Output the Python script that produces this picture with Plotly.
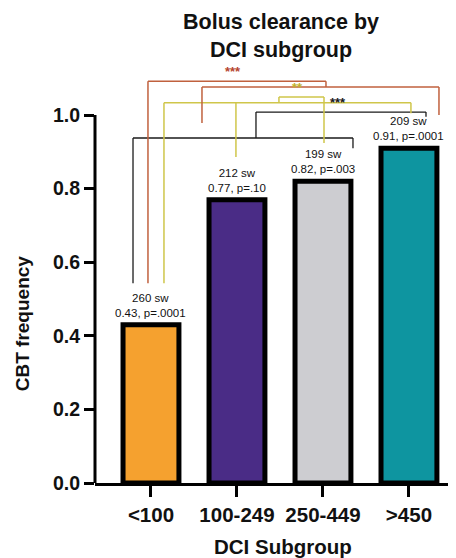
import plotly.graph_objects as go

# ---- data ----
categories = ["<100", "100-249", "250-449", ">450"]
cbt_frequency = [0.43, 0.77, 0.82, 0.91]
swallow_counts = [260, 212, 199, 209]
p_values = [".0001", ".10", ".003", ".0001"]
bar_colors = ["#F5A12F", "#4A2C86", "#CDCDD1", "#0E95A0"]

# comparison brackets: each has a horizontal level, and legs (x position, leg bottom)
brackets = [
    # black
    {"color": "#1a1a1a", "level": 0.9375, "legs": [(-0.209, 0.543), (2.349, 0.910)]},
    {"color": "#1a1a1a", "level": 1.008, "legs": [(1.221, 0.9375), (3.198, 0.995)]},
    # yellow
    {"color": "#CFC64A", "level": 1.033, "legs": [(0.151, 0.543), (0.988, 0.886), (3.023, 1.005)]},
    {"color": "#CFC64A", "level": 1.049, "legs": [(1.488, 1.033), (2.012, 0.924)]},
    # red
    {"color": "#C0613E", "level": 1.076, "legs": [(0.593, 0.978), (3.349, 1.000)]},
    {"color": "#C0613E", "level": 1.092, "legs": [(-0.035, 0.543), (2.035, 1.076)]},
]
stars = [
    {"text": "***", "x": 2.174, "y": 1.008, "color": "#1a1a1a"},
    {"text": "**", "x": 1.709, "y": 1.049, "color": "#C2B22E"},
    {"text": "***", "x": 0.953, "y": 1.092, "color": "#B5452E"},
]

FONT = "Arial, Liberation Sans, Helvetica, sans-serif"

fig = go.Figure()
xs = list(range(len(categories)))
fig.add_trace(go.Bar(
    x=xs, y=cbt_frequency, width=0.65,
    marker=dict(color=bar_colors, line=dict(color="black", width=5)),
    hoverinfo="skip", showlegend=False,
))

for b in brackets:
    lx = [l[0] for l in b["legs"]]
    px, py = [min(lx), max(lx)], [b["level"], b["level"]]
    px.append(None); py.append(None)
    for x0, y0 in b["legs"]:
        px += [x0, x0, None]
        py += [b["level"], y0, None]
    fig.add_trace(go.Scatter(
        x=px, y=py, mode="lines",
        line=dict(color=b["color"], width=1.5 if b["color"] != "#1a1a1a" else 1.3),
        hoverinfo="skip", showlegend=False, cliponaxis=False,
    ))

annotations = []
for s in stars:
    annotations.append(dict(x=s["x"], y=s["y"], xref="x", yref="y", text="<b>" + s["text"] + "</b>",
                            showarrow=False, yanchor="bottom",
                            font=dict(family=FONT, size=13, color=s["color"])))

for i, (v, n, p) in enumerate(zip(cbt_frequency, swallow_counts, p_values)):
    annotations.append(dict(x=i, y=v, xref="x", yref="y",
                            text=f"{n} sw<br>{v:.2f}, p={p}",
                            showarrow=False, yanchor="bottom", yshift=4,
                            font=dict(family=FONT, size=11.5, color="#111")))

# title and axis titles
annotations.append(dict(x=0.516, y=1.0835, xref="paper", yref="paper",
                        text="<b>Bolus clearance by<br>DCI subgroup</b>", showarrow=False,
                        xanchor="center", yanchor="middle",
                        font=dict(family=FONT, size=21.5, color="#111")))
annotations.append(dict(x=0.521, y=-0.154, xref="paper", yref="paper",
                        text="<b>DCI Subgroup</b>", showarrow=False,
                        xanchor="center", yanchor="middle",
                        font=dict(family=FONT, size=20.5, color="#111")))
annotations.append(dict(x=-0.202, y=0.387, xref="paper", yref="paper",
                        text="<b>CBT frequency</b>", showarrow=False, textangle=-90,
                        xanchor="center", yanchor="middle",
                        font=dict(family=FONT, size=19, color="#111")))

# the page body adds an 8px offset, so the figure is sized to the visible area
fig.update_layout(
    width=448, height=550,
    margin=dict(l=87, r=0, t=62, b=75, pad=0),
    plot_bgcolor="white", paper_bgcolor="white",
    annotations=annotations,
    shapes=[dict(type="line", xref="paper", yref="y", x0=0, x1=0, y0=0, y1=1.0,
                 line=dict(color="black", width=3), layer="above")],
)
fig.update_xaxes(
    range=[-0.651, 3.547], tickvals=xs, ticktext=categories,
    showline=True, linecolor="black", linewidth=3,
    ticks="outside", ticklen=11, tickwidth=3, tickcolor="black",
    tickfont=dict(family=FONT, size=20.5, color="#111", weight="bold"),
    showgrid=False, zeroline=False, fixedrange=True,
)
fig.update_yaxes(
    range=[0, 1.1223], tickvals=[0, 0.2, 0.4, 0.6, 0.8, 1.0],
    ticktext=["0.0", "0.2", "0.4", "0.6", "0.8", "1.0"],
    showline=False,
    ticks="outside", ticklen=10, tickwidth=3, tickcolor="black",
    tickfont=dict(family=FONT, size=19.5, color="#111", weight="bold"),
    showgrid=False, zeroline=False, fixedrange=True,
)

fig.write_html("out.html")
